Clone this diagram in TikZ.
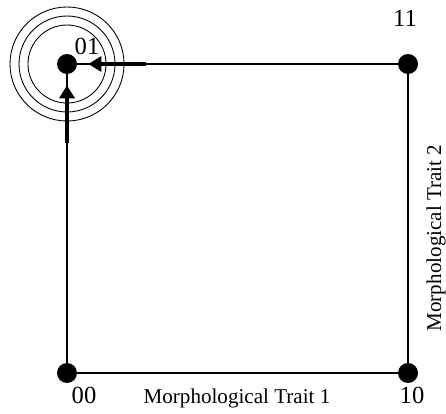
\documentclass[tikz,border=0pt]{standalone}
\usepackage{fontspec}
\setmainfont{Liberation Serif}
\usetikzlibrary{arrows.meta,calc}
\tikzset{
  corner/.style={circle,fill=black,inner sep=0pt,minimum size=0.4cm},
  lab/.style={font=\fontsize{14}{16}\selectfont},
  axislab/.style={font=\fontsize{12}{14}\selectfont},
  push/.style={-{Triangle[length=0.26cm,width=0.3cm]},line width=0.09cm,shorten >=0.22cm},
}

\begin{document}
\begin{tikzpicture}[x=0.02cm,y=0.02cm]
  \useasboundingbox (0,0) rectangle (446,413);
  % corners of the trait space
  \node[corner] (n01) at (67,349) {};
  \node[corner] (n11) at (408,349) {};
  \node[corner] (n00) at (67,40) {};
  \node[corner] (n10) at (408,40) {};
  \draw[line width=0.7pt] (n01) -- (n11) -- (n10) -- (n00) -- (n01);
  % rings round the peak
  \foreach \r in {39,48,57}
    \draw[line width=0.5pt] (n01) circle (\r);
  % moves towards 01
  \coordinate (tailH) at (146,349);
  \coordinate (tailV) at (67,270);
  \draw[push] (tailH) -- (n01);
  \draw[push] (tailV) -- (n01);
  \node[lab] at (87,367) {01};
  \node[lab] at (405,395) {11};
  \node[lab] at (84,18) {00};
  \node[lab] at (412,18) {10};
  \node[axislab] at (237,15) {Morphological Trait 1};
  \node[axislab,rotate=90] at (436,175) {Morphological Trait 2};
\end{tikzpicture}
\end{document}
